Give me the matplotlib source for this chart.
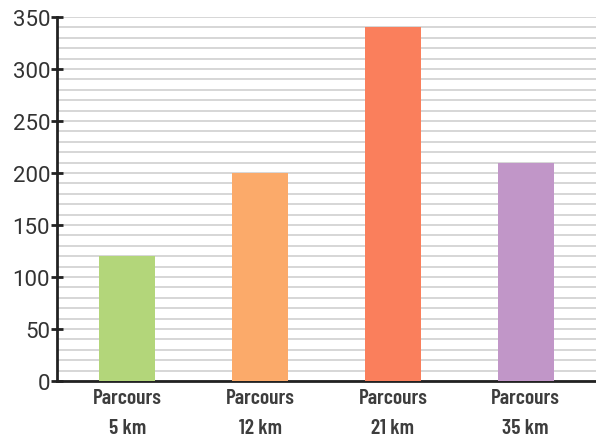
import numpy as np
import matplotlib.pyplot as plt

labels = ["Parcours\n5 km", "Parcours\n12 km", "Parcours\n21 km", "Parcours\n35 km"]
values = [120, 200, 340, 210]
colors = ["#b3d67a", "#fbaa6a", "#fa7f5c", "#c196c8"]

fig = plt.figure(figsize=(5.96, 4.39), dpi=100)
ax = fig.add_axes([0.0956, 0.13, 0.9044, 0.829])

x = np.arange(len(values))
ax.bar(x, values, width=0.42, color=colors, zorder=3)

ax.set_xlim(-0.53, 3.53)
ax.set_ylim(0, 350)
ax.set_yticks(np.arange(0, 351, 50))
ax.set_yticks(np.arange(0, 351, 10), minor=True)
ax.grid(True, which="both", axis="y", color="#d0d0d0", lw=1.2, zorder=0)

for s in ["top", "right"]:
    ax.spines[s].set_visible(False)
ax.spines["left"].set_linewidth(2)
ax.spines["bottom"].set_linewidth(2)
ax.spines["left"].set_color("#222222")
ax.spines["bottom"].set_color("#222222")

ax.tick_params(axis="y", which="major", direction="inout", length=8, width=2,
               color="#222222", labelsize=16, labelcolor="#333333", pad=1)
ax.tick_params(axis="y", which="minor", length=0)
for t in ax.get_yticklabels():
    t.set_fontfamily("Roboto")
ax.set_xticks(x)
ax.set_xticklabels(labels, fontsize=15.5, color="#3d3d3d", fontfamily="Barlow Condensed",
                   fontweight="semibold", linespacing=1.75)
ax.tick_params(axis="x", length=0, pad=5)

fig.savefig("out.png", dpi=100)
